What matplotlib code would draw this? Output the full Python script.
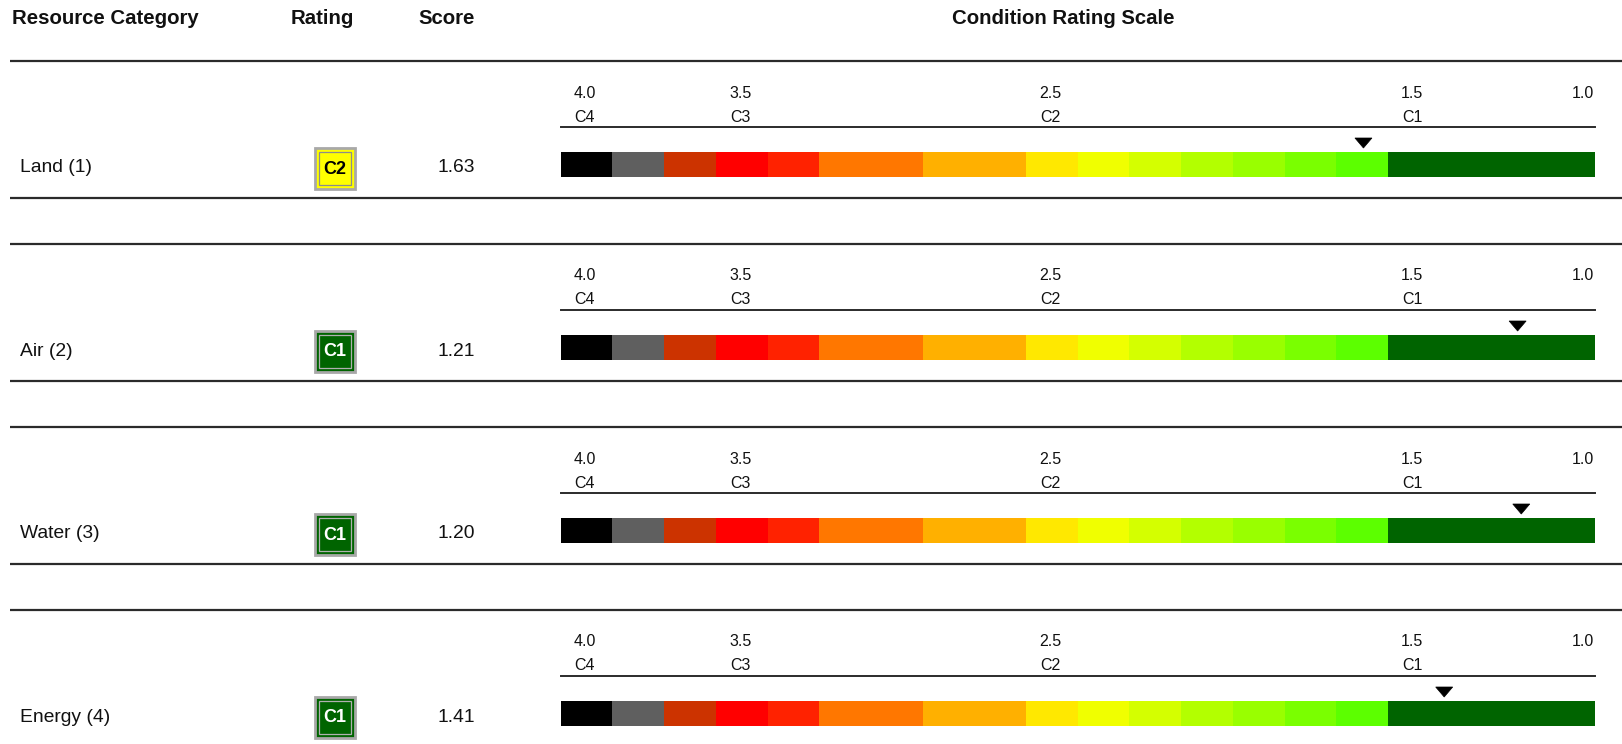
import numpy as np
import matplotlib.pyplot as plt
from matplotlib.patches import Rectangle, Polygon

plt.rcParams['font.family'] = ['Liberation Sans', 'DejaVu Sans']

# data
categories = ['Land (1)', 'Air (2)', 'Water (3)', 'Energy (4)']
ratings = ['C2', 'C1', 'C1', 'C1']
scores = [1.63, 1.21, 1.20, 1.41]

scale_values = ['4.0', '3.5', '2.5', '1.5', '1.0']
scale_codes = ['C4', 'C3', 'C2', 'C1', '']

seg_colors = ['#000000', '#5f5f5f', '#cc3300', '#ff0000', '#ff2200', '#ff7700',
              '#ffb000', '#ffe800', '#f0ff00', '#d4ff00', '#b3ff00', '#99ff00',
              '#7aff00', '#5cff00', '#006400']
seg_units = [1, 1, 1, 1, 1, 2, 2, 1, 1, 1, 1, 1, 1, 1, 4]
rating_colors = {'C1': ('#006400', 'white'), 'C2': ('#ffff00', 'black'),
                 'C3': ('#ff0000', 'white'), 'C4': ('#000000', 'white')}

# layout (pixels)
W, H = 1622, 744
bar_x0 = 560.7
unit = 51.7
bar_x1 = bar_x0 + unit * sum(seg_units)
row_top0 = 61
row_pitch = 183
tick_units = [0, 3, 9, 16]
px_per_point = unit * 7.1   # marker scale: 1.0 at the right end


def score_x(s):
    return bar_x1 - (s - 1.0) * px_per_point


fig = plt.figure(figsize=(W / 100, H / 100), dpi=100)
ax = fig.add_axes([0, 0, 1, 1])
ax.set_xlim(0, W)
ax.set_ylim(H, 0)
ax.axis('off')

line_kw = dict(color='#2b2b2b', lw=1.6, solid_capstyle='butt')
hdr = dict(fontsize=14.7, fontweight='bold', va='center', color='#111111')
ax.text(12, 18.5, 'Resource Category', ha='left', **hdr)
ax.text(322, 18.5, 'Rating', ha='center', **hdr)
ax.text(447, 18.5, 'Score', ha='center', **hdr)
ax.text(1063, 18.5, 'Condition Rating Scale', ha='center', **hdr)

for i, (cat, rat, sc) in enumerate(zip(categories, ratings, scores)):
    T = row_top0 + row_pitch * i
    ax.plot([10, W], [T, T], **line_kw)
    ax.plot([10, W], [T + 137, T + 137], **line_kw)

    ymid = T + 107
    ax.text(20, ymid, cat, ha='left', va='center', fontsize=13.9, color='#111111')
    ax.text(456, ymid, f'{sc:.2f}', ha='center', va='center', fontsize=13.9,
            color='#111111')

    # rating box
    fc, tc = rating_colors[rat]
    bx, by, bw, bh = 314.5, T + 86.5, 40, 41
    ax.add_patch(Rectangle((bx, by), bw, bh, facecolor=fc, edgecolor='#a8a8a8',
                           lw=2.0))
    ax.add_patch(Rectangle((bx + 4, by + 4), bw - 8, bh - 8, facecolor='none',
                           edgecolor='#8c8c8c' if rat == 'C2' else '#b0b0b0',
                           lw=0.9))
    ax.text(bx + bw / 2, by + bh / 2 + 1, rat, ha='center', va='center',
            fontsize=13, fontweight='bold', color=tc)

    # scale labels and line
    for val, code, u in zip(scale_values, scale_codes, tick_units + [None]):
        if u is None:
            ax.text(bar_x1 - 1, T + 32, val, ha='right', va='center',
                    fontsize=11.5, color='#111111')
            continue
        xc = bar_x0 + (u + 0.47) * unit
        ax.text(xc, T + 32, val, ha='center', va='center', fontsize=11.5,
                color='#111111')
        ax.text(xc, T + 56, code, ha='center', va='center', fontsize=11.5,
                color='#111111')
    ax.plot([bar_x0, bar_x1], [T + 66, T + 66], color='#2b2b2b', lw=1.4)

    # colour bar
    x = bar_x0
    for c, n in zip(seg_colors, seg_units):
        ax.add_patch(Rectangle((x, T + 91), n * unit, 25, facecolor=c,
                               edgecolor='none'))
        x += n * unit

    # marker
    mx = score_x(sc)
    ax.add_patch(Polygon([[mx - 8.5, T + 77], [mx + 8.5, T + 77], [mx, T + 87]],
                         closed=True, facecolor='black', edgecolor='black',
                         lw=0.5))

fig.savefig('out.png', dpi=100)
